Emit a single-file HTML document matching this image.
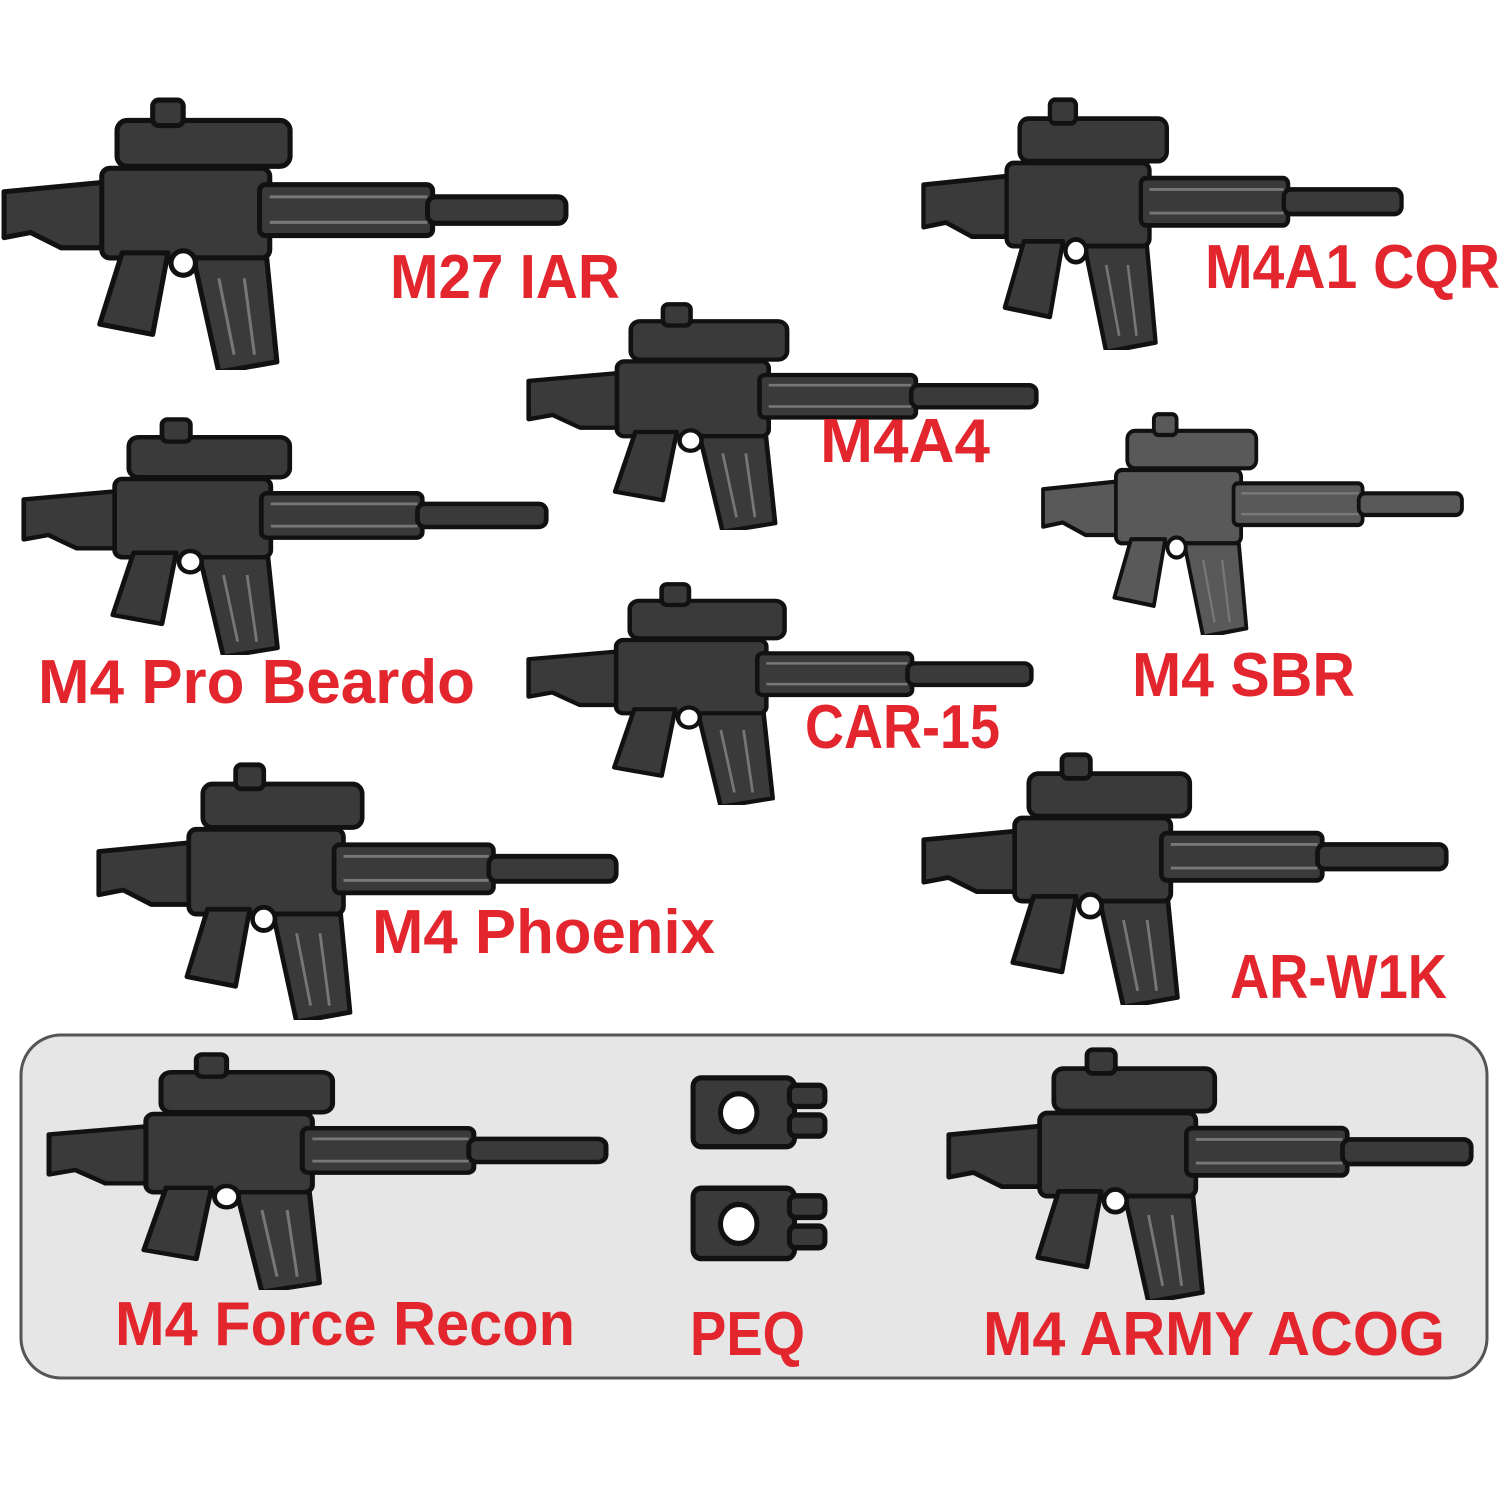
<!DOCTYPE html>
<html><head><meta charset="utf-8"><style>
html,body{margin:0;padding:0;background:#fff;}
svg{display:block;}
text{font-family:"Liberation Sans",sans-serif;font-weight:bold;fill:#e3262e;}
</style></head><body>
<svg width="1500" height="1500" viewBox="0 0 1500 1500" xmlns="http://www.w3.org/2000/svg">
<defs>
<symbol id="gun" viewBox="0 0 560 270" preserveAspectRatio="none">
<g stroke="#111" stroke-width="5" stroke-linejoin="round">
<path d="M4 95 L110 85 L110 150 L60 150 L30 135 L4 140 Z"/>
<rect x="100" y="72" width="165" height="88" rx="8"/>
<rect x="255" y="88" width="170" height="50" rx="6"/>
<rect x="420" y="100" width="136" height="26" rx="8"/>
<path d="M120 155 L165 155 L150 235 L98 225 Z"/>
<path d="M190 160 L262 160 L272 262 L215 272 Z"/>
<rect x="115" y="25" width="170" height="45" rx="10"/>
<rect x="150" y="5" width="30" height="25" rx="6"/>
<circle cx="180" cy="165" r="12" fill="#fff"/>
</g>
<g stroke="#777" stroke-width="3" fill="none">
<path d="M265 100 H420 M265 125 H420 M215 180 L230 255 M240 180 L250 255"/>
</g>
</symbol>
<symbol id="peq" viewBox="0 0 140 85" preserveAspectRatio="none">
<g stroke="#111" stroke-width="5" fill="#3a3a3a">
<rect x="5" y="15" width="100" height="65" rx="8"/>
<rect x="100" y="22" width="35" height="20" rx="6"/>
<rect x="100" y="50" width="35" height="20" rx="6"/>
<circle cx="50" cy="48" r="18" fill="#fff"/>
</g>
</symbol>
</defs>
<rect x="21" y="1035" width="1466" height="343" rx="40" fill="#e6e6e6" stroke="#555" stroke-width="3"/>
<g fill="#3a3a3a">
<use href="#gun" x="0" y="95" width="570" height="275"/>
<use href="#gun" x="920" y="95" width="485" height="255"/>
<use href="#gun" x="525" y="300" width="515" height="230"/>
<use href="#gun" x="20" y="415" width="530" height="240"/>
<use href="#gun" x="525" y="580" width="510" height="225"/>
<use href="#gun" x="95" y="760" width="525" height="260"/>
<use href="#gun" x="920" y="750" width="530" height="255"/>
<use href="#gun" x="45" y="1050" width="565" height="240"/>
<use href="#gun" x="945" y="1045" width="530" height="255"/>
</g>
<g fill="#595959">
<use href="#gun" x="1040" y="410" width="425" height="225"/>
</g>
<use href="#peq" x="688" y="1062" width="142" height="90"/>
<use href="#peq" x="688" y="1172" width="142" height="92"/>
<text x="390" y="298" font-size="62" textLength="230" lengthAdjust="spacingAndGlyphs">M27 IAR</text>
<text x="1205" y="288" font-size="62" textLength="295" lengthAdjust="spacingAndGlyphs">M4A1 CQR</text>
<text x="820" y="462" font-size="62" textLength="170" lengthAdjust="spacingAndGlyphs">M4A4</text>
<text x="38" y="703" font-size="62" textLength="437" lengthAdjust="spacingAndGlyphs">M4 Pro Beardo</text>
<text x="1132" y="696" font-size="62" textLength="223" lengthAdjust="spacingAndGlyphs">M4 SBR</text>
<text x="805" y="748" font-size="62" textLength="195" lengthAdjust="spacingAndGlyphs">CAR-15</text>
<text x="372" y="953" font-size="62" textLength="343" lengthAdjust="spacingAndGlyphs">M4 Phoenix</text>
<text x="1230" y="998" font-size="62" textLength="217" lengthAdjust="spacingAndGlyphs">AR-W1K</text>
<text x="115" y="1345" font-size="62" textLength="460" lengthAdjust="spacingAndGlyphs">M4 Force Recon</text>
<text x="690" y="1355" font-size="62" textLength="115" lengthAdjust="spacingAndGlyphs">PEQ</text>
<text x="983" y="1355" font-size="62" textLength="462" lengthAdjust="spacingAndGlyphs">M4 ARMY ACOG</text>
</svg>
</body></html>
